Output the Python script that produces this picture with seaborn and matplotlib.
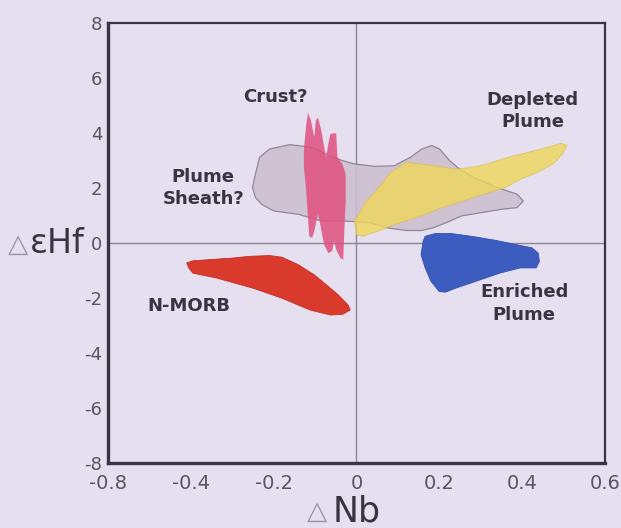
import matplotlib
matplotlib.use("Agg")
import matplotlib.pyplot as plt
import seaborn as sns

# field outlines (delta Nb, delta eHf)
nmorb_x = [-0.41, -0.405, -0.395, -0.337, -0.249, -0.18, -0.112, -0.063, -0.034, -0.015,
           -0.02, -0.044, -0.073, -0.102, -0.141, -0.18, -0.21, -0.259, -0.298, -0.356, -0.395]
nmorb_y = [-0.73, -0.91, -1.10, -1.28, -1.65, -2.01, -2.44, -2.62, -2.60, -2.44,
           -2.26, -1.89, -1.52, -1.16, -0.79, -0.52, -0.46, -0.49, -0.55, -0.61, -0.65]

enriched_x = [0.161, 0.156, 0.166, 0.18, 0.20, 0.215, 0.239, 0.288, 0.346, 0.395,
              0.434, 0.442, 0.439, 0.424, 0.385, 0.337, 0.278, 0.229, 0.19, 0.166]
enriched_y = [0.06, -0.43, -0.91, -1.40, -1.77, -1.79, -1.65, -1.40, -1.10, -0.91,
              -0.91, -0.67, -0.37, -0.18, -0.06, 0.09, 0.24, 0.34, 0.34, 0.24]

depleted_x = [-0.005, 0.005, 0.024, 0.054, 0.083, 0.122, 0.151, 0.19, 0.239, 0.278,
              0.317, 0.366, 0.415, 0.463, 0.495, 0.508, 0.498, 0.475, 0.437, 0.398,
              0.36, 0.321, 0.283, 0.245, 0.206, 0.168, 0.13, 0.091, 0.053, 0.015, 0.0]
depleted_y = [0.79, 1.04, 1.52, 2.01, 2.56, 2.93, 2.87, 2.80, 2.68, 2.74,
              2.87, 3.11, 3.29, 3.48, 3.62, 3.54, 3.23, 2.87, 2.56, 2.32,
              2.01, 1.83, 1.65, 1.46, 1.28, 1.04, 0.85, 0.67, 0.43, 0.24, 0.30]

sheath_x = [-0.251, -0.244, -0.234, -0.21, -0.161, -0.112, -0.073, -0.034, -0.005, 0.044,
            0.091, 0.13, 0.158, 0.182, 0.201, 0.225, 0.249, 0.283, 0.34, 0.388,
            0.403, 0.388, 0.35, 0.302, 0.254, 0.216, 0.186, 0.158, 0.12, 0.072,
            0.034, -0.024, -0.083, -0.141, -0.2, -0.229, -0.244]
sheath_y = [2.01, 2.50, 3.11, 3.41, 3.57, 3.48, 3.23, 2.99, 2.87, 2.78,
            2.80, 3.11, 3.41, 3.54, 3.41, 2.99, 2.68, 2.38, 2.01, 1.77,
            1.52, 1.28, 1.22, 1.10, 0.98, 0.73, 0.55, 0.45, 0.45, 0.55,
            0.73, 0.79, 0.79, 1.04, 1.16, 1.40, 1.65]

crust_x = [-0.127, -0.122, -0.117, -0.11, -0.102, -0.098, -0.093, -0.085, -0.078, -0.073,
           -0.068, -0.063, -0.049, -0.046, -0.034, -0.026, -0.026, -0.029, -0.032, -0.039,
           -0.049, -0.054, -0.059, -0.068, -0.078, -0.083, -0.088, -0.093, -0.102, -0.107,
           -0.114, -0.117, -0.122, -0.127]
crust_y = [3.35, 4.21, 4.72, 4.45, 3.84, 4.45, 4.55, 4.09, 3.48, 3.11,
           3.60, 3.96, 3.99, 3.11, 2.87, 2.50, 1.52, 0.55, -0.61, -0.55,
           -0.24, 0.06, -0.30, -0.37, -0.06, 0.30, 0.73, 1.04, 0.43, 0.18,
           0.24, 0.91, 2.01, 2.74]

x_ticks = [-0.6, -0.4, -0.2, 0, 0.2, 0.4, 0.6]
x_tick_labels = ["-0.8", "-0.4", "-0.2", "0", "0.2", "0.4", "0.6"]
y_ticks = [-8, -6, -4, -2, 0, 2, 4, 6, 8]

bg = "#e6dff0"
ink = "#3b3340"

sns.set_theme(style="white")
plt.rcParams["font.family"] = ["DejaVu Sans"]
plt.rcParams["axes.unicode_minus"] = False

fig = plt.figure(figsize=(6.21, 5.28), dpi=100, facecolor=bg)
ax = fig.add_axes([0.174, 0.123, 0.800, 0.834])
ax.set_facecolor(bg)

ax.axhline(0, color="#8d8494", lw=1.0, zorder=1)
ax.axvline(0, color="#8d8494", lw=1.0, zorder=1)

ax.fill(sheath_x, sheath_y, facecolor="#cdbfd0", edgecolor="#8a7f90", lw=0.9, alpha=0.9, zorder=2)
ax.fill(depleted_x, depleted_y, facecolor="#efd75a", edgecolor="#d8c050", lw=0.6, alpha=0.8, zorder=3)
ax.fill(crust_x, crust_y, facecolor="#e0507e", edgecolor="none", alpha=0.85, zorder=4)
ax.fill(nmorb_x, nmorb_y, facecolor="#d93a2c", edgecolor="#c0302a", lw=0.6, zorder=4)
ax.fill(enriched_x, enriched_y, facecolor="#3c5cc0", edgecolor="#3450b0", lw=0.6, zorder=4)

lab = dict(fontsize=13, fontweight="bold", color=ink, ha="center", va="center",
           linespacing=1.3, zorder=5)
ax.text(-0.195, 5.3, "Crust?", **lab)
ax.text(0.425, 4.8, "Depleted\nPlume", **lab)
ax.text(-0.37, 2.0, "Plume\nSheath?", **lab)
ax.text(-0.405, -2.28, "N-MORB", **lab)
ax.text(0.405, -2.2, "Enriched\nPlume", **lab)

ax.set_xlim(-0.6, 0.6)
ax.set_ylim(-8, 8)
ax.set_xticks(x_ticks)
ax.set_xticklabels(x_tick_labels)
ax.set_yticks(y_ticks)
ax.tick_params(axis="both", direction="out", length=3, width=1.5, color=ink,
               labelsize=14, labelcolor="#5a5360", pad=1)
ax.tick_params(axis="x", pad=5)
ax.tick_params(axis="y", labelsize=13)

for side in ["left", "bottom"]:
    ax.spines[side].set_linewidth(2.4)
    ax.spines[side].set_color(ink)
for side in ["top", "right"]:
    ax.spines[side].set_linewidth(1.6)
    ax.spines[side].set_color(ink)

fig.text(0.004, 0.536, r"$\triangle$", fontsize=19, color="#9a93a0", va="center", ha="left")
fig.text(0.048, 0.538, "εHf", fontsize=24, color=ink, va="center", ha="left")
fig.text(0.528, 0.030, r"$\triangle$", fontsize=19, color="#9a93a0", va="center", ha="right")
fig.text(0.536, 0.032, "Nb", fontsize=25, color=ink, va="center", ha="left")

fig.savefig("out.png", dpi=100, facecolor=bg)
